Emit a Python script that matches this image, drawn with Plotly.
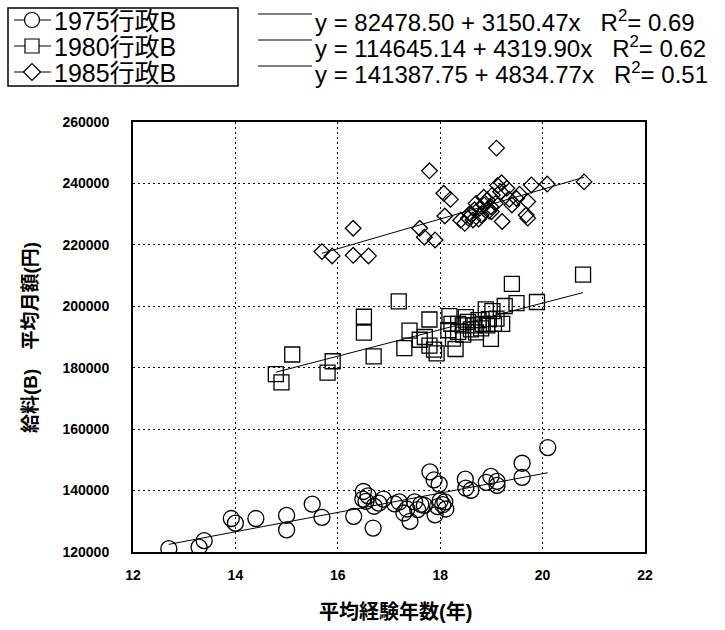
import plotly.graph_objects as go

# 平均経験年数 (years) and 平均月額 (yen) for each survey year
x1975 = [12.70, 13.29, 13.39, 13.92, 14.00, 14.40, 15.00, 15.00, 15.50, 15.69,
         16.31, 16.50, 16.59, 16.49, 16.71, 16.69, 16.89, 16.80, 17.11, 17.29,
         17.41, 17.50, 17.56, 17.69, 17.80, 17.88, 17.98, 17.90, 18.00, 18.09,
         18.11, 18.49, 18.50, 18.60, 18.99, 18.90, 19.11, 19.11, 19.60, 19.60,
         20.10, 17.20, 17.62, 17.95, 18.05, 17.35, 16.55]
y1975 = [121100, 121600, 123700, 130900, 129400, 130900, 131900, 127200, 135600, 131300,
         131600, 139700, 138300, 137200, 134900, 127800, 137200, 135900, 135700, 132700,
         130000, 136300, 133800, 135200, 146100, 143500, 142100, 132100, 136700, 136300,
         134000, 143700, 140800, 140100, 144600, 142700, 143000, 141700, 148900, 144300,
         154000, 136300, 135500, 134800, 135400, 134000, 136500]

x1980 = [14.79, 14.90, 15.11, 15.80, 15.90, 16.51, 16.51, 16.70, 17.19, 17.30,
         17.40, 17.60, 17.79, 17.79, 17.88, 17.93, 18.18, 18.16, 18.22, 18.30,
         18.35, 18.35, 18.44, 18.54, 18.60, 18.67, 18.75, 18.83, 18.89, 18.92,
         18.99, 19.02, 19.05, 19.10, 19.21, 19.26, 19.40, 19.49, 19.89, 20.79,
         18.45, 18.70, 18.25, 17.70, 18.50, 18.95, 18.80]
y1980 = [177900, 175200, 184300, 178400, 182100, 196600, 191400, 183700, 201600, 186400,
         192100, 189100, 195700, 187200, 185900, 184700, 196800, 192200, 194300, 186100,
         194300, 191700, 193800, 194900, 192500, 193800, 195500, 194300, 199000, 193800,
         189400, 198400, 194300, 196000, 194300, 200100, 207300, 201000, 201400, 210300,
         190800, 191500, 189500, 190000, 196500, 195800, 192800]

x1985 = [15.69, 15.89, 16.30, 16.30, 16.60, 17.79, 17.60, 17.69, 17.90, 18.07,
         18.20, 18.09, 19.10, 19.20, 19.30, 19.78, 20.09, 20.81, 19.49, 19.71,
         19.40, 19.68, 19.71, 19.21, 18.48, 18.55, 18.61, 18.67, 18.70, 18.77,
         18.86, 18.92, 18.99, 19.02, 19.08, 19.18, 18.80, 18.64, 18.95, 19.35,
         19.12, 18.58, 18.75, 19.00, 18.40, 19.55, 18.85]
y1985 = [217800, 216400, 225400, 216600, 216400, 244100, 225400, 222500, 221600, 236800,
         234800, 229400, 251500, 240200, 238400, 239500, 239800, 240500, 235100, 234100,
         233000, 229700, 228700, 227600, 227000, 228700, 229700, 231400, 233500, 231900,
         233000, 234600, 232400, 236200, 233500, 237300, 229700, 228100, 231000, 234800,
         239300, 230200, 228400, 230800, 228000, 236500, 235500]

# Regression results: (intercept, slope, R^2)
series_names = ["1975行政B", "1980行政B", "1985行政B"]
intercepts = [82478.50, 114645.14, 141387.75]
slopes = [3150.47, 4319.90, 4834.77]
r2_values = [0.69, 0.62, 0.51]

x_ticks = [12, 14, 16, 18, 20, 22]
y_ticks = [120000, 140000, 160000, 180000, 200000, 220000, 240000, 260000]

xs = [x1975, x1980, x1985]
ys = [y1975, y1980, y1985]
symbols = ["circle-open", "square-open", "diamond-open"]
sizes = [16, 15, 12]

LAT = "Liberation Sans, Arial, Noto Sans CJK JP"
FONT = "Liberation Sans, Noto Sans CJK JP"

fig = go.Figure()

for xv, yv, sym, sz in zip(xs, ys, symbols, sizes):
    fig.add_trace(go.Scatter(
        x=xv, y=yv, mode="markers", showlegend=False,
        marker=dict(symbol=sym, size=sz, color="black",
                    line=dict(color="black", width=1.3)),
    ))

# fitted lines over each series' range
for xv, a, b in zip(xs, intercepts, slopes):
    x0, x1 = min(xv), max(xv)
    fig.add_trace(go.Scatter(
        x=[x0, x1], y=[a + b * x0, a + b * x1], mode="lines",
        showlegend=False, line=dict(color="black", width=1),
    ))

L, R, T, B = 133, 80, 122, 78
W, H = 725, 630
pw, ph = W - L - R, H - T - B


def xp(px):
    return (px - L) / pw


def yp(py):
    return 1 - (py - T) / ph


annotations = []
shapes = []

# key box: line + open symbol + series name
rows = [20, 46, 72]
shapes.append(dict(type="rect", xref="paper", yref="paper",
                   x0=xp(8), x1=xp(238), y0=yp(8), y1=yp(86),
                   line=dict(color="black", width=1.5), fillcolor="white"))
mx, r = 32, 7.5
for name, sym, ry in zip(series_names, symbols, rows):
    shapes.append(dict(type="line", xref="paper", yref="paper",
                       x0=xp(14), x1=xp(51), y0=yp(ry), y1=yp(ry),
                       line=dict(color="black", width=1)))
    if sym.startswith("circle"):
        shapes.append(dict(type="circle", xref="paper", yref="paper",
                           x0=xp(mx - r), x1=xp(mx + r), y0=yp(ry - r), y1=yp(ry + r),
                           line=dict(color="black", width=1.2), fillcolor="white"))
    elif sym.startswith("square"):
        shapes.append(dict(type="rect", xref="paper", yref="paper",
                           x0=xp(mx - 7), x1=xp(mx + 7), y0=yp(ry - 7), y1=yp(ry + 7),
                           line=dict(color="black", width=1.2), fillcolor="white"))
    else:
        d = 8.5
        path = (f"M {xp(mx - d)} {yp(ry)} L {xp(mx)} {yp(ry - d)} "
                f"L {xp(mx + d)} {yp(ry)} L {xp(mx)} {yp(ry + d)} Z")
        shapes.append(dict(type="path", xref="paper", yref="paper", path=path,
                           line=dict(color="black", width=1.2), fillcolor="white"))
    annotations.append(dict(
        x=xp(52), y=yp(ry + 1), xref="paper", yref="paper", text=name,
        showarrow=False, xanchor="left", yanchor="middle",
        font=dict(family=FONT, size=25, color="black"),
    ))

# regression equations
for a, b, r2, ry in zip(intercepts, slopes, r2_values, rows):
    txt = f"y = {a:.2f} + {b:.2f}x   R<sup>2</sup>= {r2:.2f}"
    annotations.append(dict(
        x=xp(313), y=yp(ry + 1), xref="paper", yref="paper", text=txt,
        showarrow=False, xanchor="left", yanchor="middle",
        font=dict(family=FONT, size=24, color="black"),
    ))
    shapes.append(dict(
        type="line", xref="paper", yref="paper",
        x0=xp(258), x1=xp(312), y0=yp(ry - 6), y1=yp(ry - 6),
        line=dict(color="black", width=1),
    ))

annotations.append(dict(
    x=xp(395), y=yp(612), xref="paper", yref="paper", text="平均経験年数(年)",
    showarrow=False, xanchor="center", yanchor="middle",
    font=dict(family=FONT, size=20, color="black", weight="bold"),
))
annotations.append(dict(
    x=xp(30), y=yp(338), xref="paper", yref="paper",
    text="給料(B)\u3000平均月額(円)", textangle=-90,
    showarrow=False, xanchor="center", yanchor="middle",
    font=dict(family=FONT, size=19, color="black", weight="bold"),
))

axis_common = dict(
    showgrid=True, gridcolor="black", gridwidth=1, griddash="2px,3px",
    showline=True, linecolor="black", linewidth=2, mirror=True,
    zeroline=False, ticks="",
    tickfont=dict(family=LAT, size=14, color="black", weight="bold"),
)

fig.update_layout(
    width=W, height=H, autosize=False, showlegend=False,
    margin=dict(l=L, r=R, t=T, b=B, pad=0),
    paper_bgcolor="white", plot_bgcolor="white",
    xaxis=dict(range=[12, 22], tickvals=x_ticks, ticklabelstandoff=9, **axis_common),
    yaxis=dict(range=[120000, 260000], tickvals=y_ticks, ticklabelstandoff=19,
               tickformat="d", **axis_common),
    annotations=annotations, shapes=shapes,
)

fig.write_html("out.html")
